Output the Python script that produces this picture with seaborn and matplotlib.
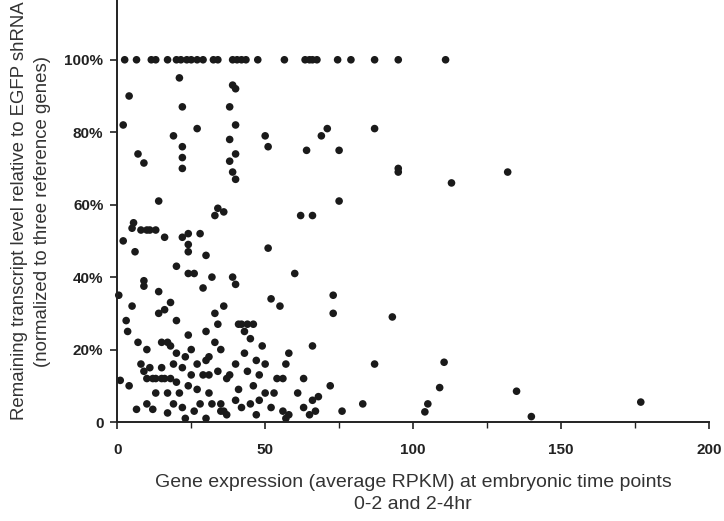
import matplotlib
matplotlib.use("Agg")
import matplotlib.pyplot as plt
import seaborn as sns
import pandas as pd
from matplotlib.ticker import MultipleLocator, FuncFormatter

# gene expression (avg RPKM) and remaining transcript level (%)
rpkm = [
    # 100% row
    2.5, 6.5, 11.5, 13, 17, 20, 21.5, 23.5, 25, 27, 29, 32.5, 34, 39, 40.5, 42, 43.5,
    47.5, 56.5, 63.5, 65, 66, 67.5, 74.5, 79, 87, 95, 111,
    # x 0-10
    0.5, 1, 2, 2, 3, 3.5, 4, 4, 5, 5, 5.5, 6, 6.5, 7, 7, 8, 8, 9, 9, 9, 9, 10, 10, 10, 10,
    # x 10-20
    11, 11, 12, 12, 13, 13, 13, 14, 14, 14, 15, 15, 15, 16, 16, 16, 17, 17, 17, 18, 18, 18,
    19, 19, 19, 20, 20, 20, 20,
    # x 20-30
    21, 21, 22, 22, 22, 22, 22, 22, 22, 23, 23, 24, 24, 24, 24, 24, 24, 25, 25, 26, 26, 27,
    27, 27, 28, 28, 29, 29, 30, 30, 30, 30,
    # x 30-40
    31, 31, 31, 32, 32, 33, 33, 33, 34, 34, 34, 35, 35, 35, 36, 36, 36, 37, 37, 38, 38, 38,
    38, 39, 39, 39, 40, 40, 40, 40, 40, 40, 40,
    # x 40-50
    41, 41, 42, 42, 43, 43, 44, 44, 45, 45, 46, 46, 47, 47, 48, 48, 49, 50, 50, 50,
    # x 50-85
    51, 51, 52, 52, 53, 54, 55, 56, 56, 57, 57, 58, 58, 60, 61, 62, 63, 63, 64, 65, 66, 66,
    66, 67, 68, 69, 71, 72, 73, 73, 75, 75, 76, 83,
    # right tail
    87, 87, 93, 95, 95, 104, 105, 109, 110.5, 113, 132, 135, 140, 177,
]
remaining = [
    # 100% row
    100, 100, 100, 100, 100, 100, 100, 100, 100, 100, 100, 100, 100, 100, 100, 100, 100,
    100, 100, 100, 100, 100, 100, 100, 100, 100, 100, 100,
    # x 0-10
    35, 11.5, 50, 82, 28, 25, 90, 10, 32, 53.5, 55, 47, 3.5, 22, 74, 16, 53, 39, 37.5, 14,
    71.5, 53, 12, 20, 5,
    # x 10-20
    15, 53, 12, 3.5, 53, 12, 8, 61, 36, 30, 22, 12, 15, 51, 31, 12, 8, 2.5, 22, 33, 21, 12,
    16, 79, 5, 43, 28, 19, 11,
    # x 20-30
    8, 95, 87, 76, 73, 70, 51, 15, 4, 1, 18, 52, 49, 47, 41, 24, 10, 20, 13, 3, 41, 81,
    9, 16, 52, 5, 37, 13, 46, 25, 17, 1,
    # x 30-40
    18, 13, 8, 40, 5, 57, 30, 22, 59, 27, 14, 20, 5, 3, 58, 32, 3, 2, 12, 87, 13, 72,
    78, 93, 40, 69, 92, 82, 74, 67, 38, 16, 6,
    # x 40-50
    27, 9, 27, 4, 25, 19, 27, 14, 23, 5, 27, 10, 17, 2, 6, 13, 21, 8, 16, 79,
    # x 50-85
    48, 76, 34, 4, 8, 12, 32, 12, 3, 1, 16, 19, 2, 41, 8, 57, 12, 4, 75, 2, 57, 21,
    6, 3, 7, 79, 81, 10, 35, 30, 75, 61, 3, 5,
    # right tail
    81, 16, 29, 70, 69, 2.8, 5, 9.5, 16.5, 66, 69, 8.5, 1.5, 5.5,
]

df = pd.DataFrame({"rpkm": rpkm, "remaining": remaining})

sns.set_style("ticks")
plt.rcParams["font.family"] = ["Liberation Sans", "DejaVu Sans"]

fig = plt.figure(figsize=(7.24, 5.21), dpi=100)
ax = fig.add_axes([0.162, 0.19, 0.817, 0.81])

sns.scatterplot(data=df, x="rpkm", y="remaining", color="#1a1a1a", s=30,
                edgecolor="none", linewidth=0, ax=ax, clip_on=False)

ax.set_xlim(0, 200)
ax.set_ylim(0, 116.5)
ax.set_xticks([0, 50, 100, 150, 200])
ax.xaxis.set_minor_locator(MultipleLocator(25))
ax.set_yticks([0, 20, 40, 60, 80, 100])
ax.yaxis.set_major_formatter(FuncFormatter(lambda v, p: "0" if v == 0 else f"{int(v)}%"))

ax.tick_params(axis="both", which="major", direction="out", length=5, width=1.2,
               labelsize=11, colors="#222222")
ax.tick_params(axis="x", which="major", pad=10)
ax.tick_params(axis="y", which="major", pad=5)
ax.tick_params(axis="x", which="minor", direction="out", length=4, width=1.0, color="#222222")
for lab in ax.get_xticklabels() + ax.get_yticklabels():
    lab.set_fontweight("bold")

sns.despine(ax=ax)
for sp in ["left", "bottom"]:
    ax.spines[sp].set_linewidth(1.4)
    ax.spines[sp].set_color("#222222")

ax.set_xlabel("Gene expression (average RPKM) at embryonic time points\n0-2 and 2-4hr",
              fontsize=14, color="#333333", labelpad=12, linespacing=1.45)
ax.set_ylabel("Remaining transcript level relative to EGFP shRNA\n(normalized to three reference genes)",
              fontsize=13.4, color="#333333", labelpad=8, linespacing=1.45)
ax.yaxis.set_label_coords(-0.112, 0.5)

fig.savefig("out.png", dpi=100)
